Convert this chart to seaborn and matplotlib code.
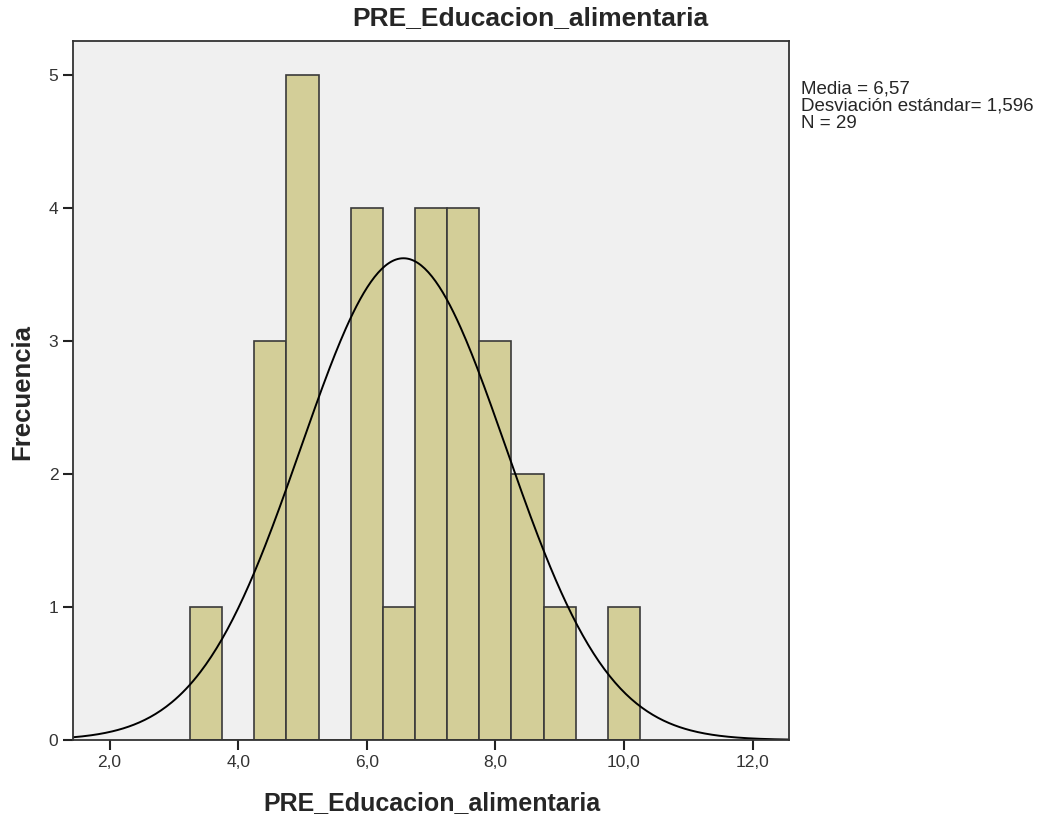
import numpy as np
import pandas as pd
import matplotlib
matplotlib.use("Agg")
import matplotlib.pyplot as plt
import seaborn as sns
from matplotlib.ticker import FuncFormatter

# bin centers and frequencies
centros = [3.5, 4.5, 5.0, 6.0, 6.5, 7.0, 7.5, 8.0, 8.5, 9.0, 10.0]
frecuencias = [1, 3, 5, 4, 1, 4, 4, 3, 2, 1, 1]
media = 6.57
desv = 1.596
n = 29
ancho_bin = 0.5

valores = np.repeat(centros, frecuencias)
df = pd.DataFrame({"PRE_Educacion_alimentaria": valores})

sns.set_style("white")
plt.rcParams["font.family"] = ["Liberation Sans", "DejaVu Sans"]

fig = plt.figure(figsize=(10.41, 8.18), dpi=100)
ax = fig.add_axes([0.0701, 0.0954, 0.688, 0.8546])
ax.set_facecolor("#f0f0f0")

bordes = np.arange(3.25, 10.26, ancho_bin)
sns.histplot(data=df, x="PRE_Educacion_alimentaria", bins=bordes, ax=ax,
             color="#d3ce98", edgecolor="#3a3a3a", linewidth=1.2, alpha=1)

# normal curve scaled to counts
xs = np.linspace(1.43, 12.57, 400)
ys = n * ancho_bin / (desv * np.sqrt(2 * np.pi)) * np.exp(-0.5 * ((xs - media) / desv) ** 2)
sns.lineplot(x=xs, y=ys, ax=ax, color="black", linewidth=1.4)

ax.set_xlim(1.43, 12.57)
ax.set_ylim(0, 5.26)
ax.set_xticks([2, 4, 6, 8, 10, 12])
ax.set_yticks([0, 1, 2, 3, 4, 5])
ax.xaxis.set_major_formatter(FuncFormatter(lambda v, p: f"{v:.1f}".replace(".", ",")))
ax.tick_params(axis="both", direction="out", length=7.5, width=1.5, color="#222222",
               labelsize=12.5, labelcolor="#333333", bottom=True, left=True, pad=3)
for s in ax.spines.values():
    s.set_color("#333333")
    s.set_linewidth(1.3)

fig.text(530 / 1041, 1 - 18 / 818, "PRE_Educacion_alimentaria", fontsize=19,
         fontweight="bold", ha="center", va="center")
ax.set_xlabel("")
ax.set_ylabel("")
fig.text(432 / 1041, 1 - 803 / 818, "PRE_Educacion_alimentaria", fontsize=18,
         fontweight="bold", ha="center", va="center")
fig.text(22 / 1041, 1 - 392 / 818, "Frecuencia", fontsize=18.5, fontweight="bold",
         ha="center", va="center", rotation=90)

fig.text(0.769, 1 - 80 / 818, f"Media = {media:.2f}".replace(".", ",") + "\n"
         + f"Desviación estándar= {desv:.3f}".replace(".", ",") + "\n"
         + f"N = {n}", fontsize=13.5, va="top", ha="left", linespacing=1.05)

fig.savefig("out.png", dpi=100)
